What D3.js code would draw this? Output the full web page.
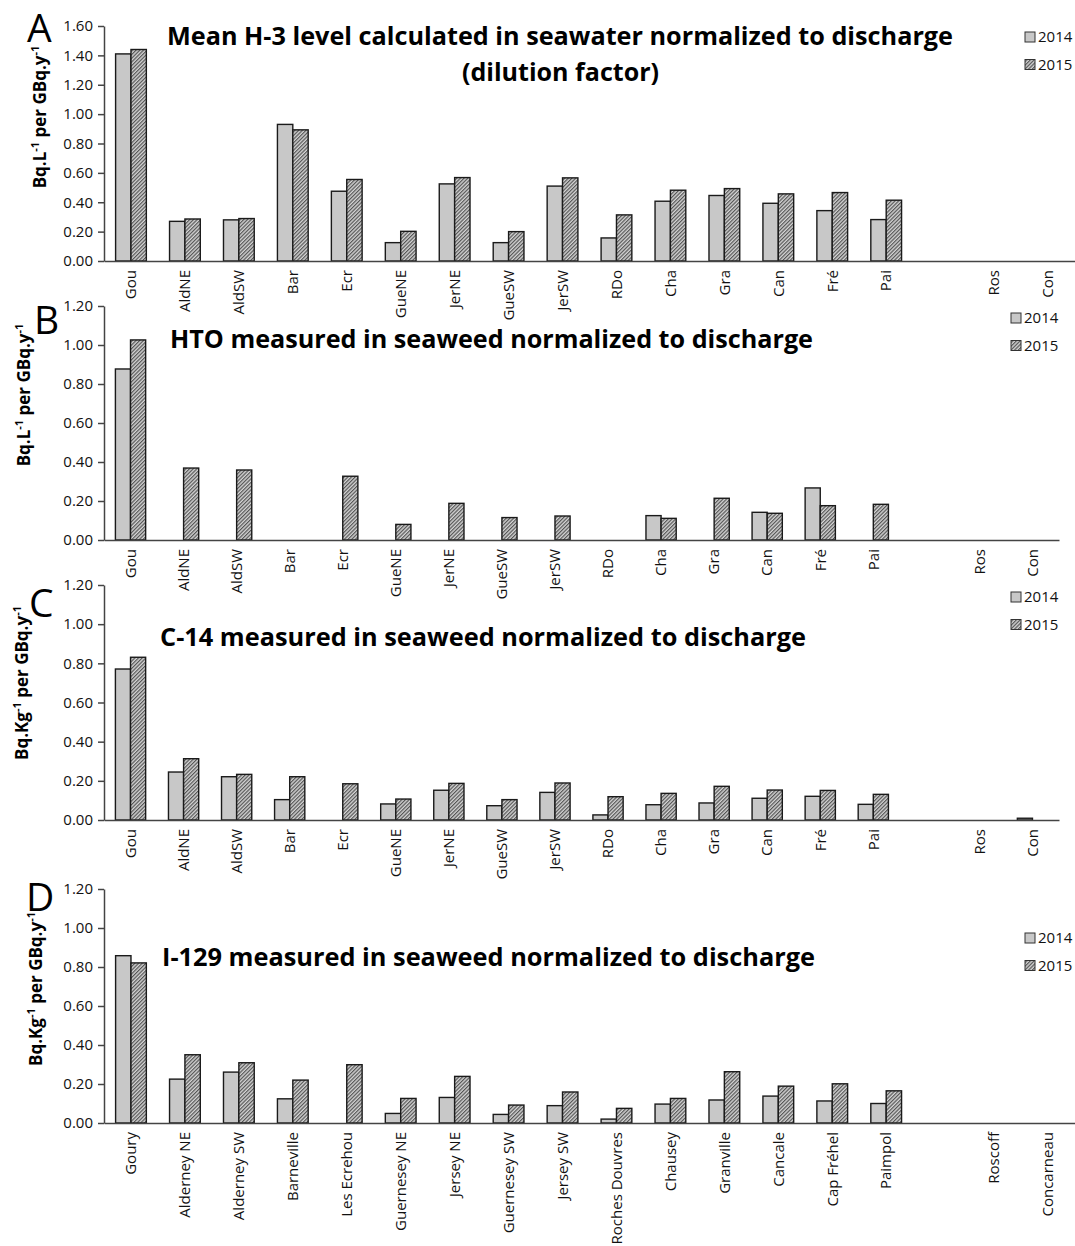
<!DOCTYPE html>
<html>
<head>
<meta charset="utf-8">
<script src="https://cdn.jsdelivr.net/npm/d3@7"></script>
<style>
  body { margin: 0; background: #fff; }
  text { font-family: "Open Sans", sans-serif; }
</style>
</head>
<body>
<script>
// sampling sites (short labels for A-C, full names for D); one empty slot before Roscoff
const sitesShort = ["Gou", "AldNE", "AldSW", "Bar", "Ecr", "GueNE", "JerNE", "GueSW", "JerSW",
  "RDo", "Cha", "Gra", "Can", "Fré", "Pai", "", "Ros", "Con"];
const sitesLong = ["Goury", "Alderney NE", "Alderney SW", "Barneville", "Les Ecrehou", "Guernesey NE",
  "Jersey NE", "Guernesey SW", "Jersey SW", "Roches Douvres", "Chausey", "Granville", "Cancale",
  "Cap Fréhel", "Paimpol", "", "Roscoff", "Concarneau"];
const years = ["2014", "2015"];

// A - H-3 in seawater (dilution factor)
const h3_2014 = [1.41, 0.27, 0.28, 0.93, 0.475, 0.125, 0.525, 0.125, 0.51, 0.157, 0.407, 0.446, 0.393, 0.343, 0.282, null, null, null];
const h3_2015 = [1.44, 0.286, 0.289, 0.893, 0.555, 0.202, 0.568, 0.20, 0.566, 0.314, 0.482, 0.493, 0.457, 0.466, 0.414, null, null, null];
// B - HTO in seaweed
const hto_2014 = [0.877, null, null, null, null, null, null, null, null, null, 0.125, null, 0.142, 0.267, null, null, null, null];
const hto_2015 = [1.026, 0.369, 0.359, null, 0.327, 0.080, 0.188, 0.115, 0.123, null, 0.111, 0.214, 0.137, 0.176, 0.183, null, null, null];
// C - C-14 in seaweed
const c14_2014 = [0.771, 0.245, 0.221, 0.104, null, 0.082, 0.152, 0.073, 0.141, 0.026, 0.078, 0.087, 0.111, 0.121, 0.080, null, null, 0.009];
const c14_2015 = [0.831, 0.313, 0.233, 0.221, 0.185, 0.107, 0.187, 0.104, 0.189, 0.119, 0.136, 0.172, 0.153, 0.151, 0.131, null, null, null];
// D - I-129 in seaweed
const i129_2014 = [0.858, 0.225, 0.261, 0.124, null, 0.049, 0.131, 0.044, 0.089, 0.020, 0.097, 0.118, 0.138, 0.113, 0.100, null, null, null];
const i129_2015 = [0.821, 0.350, 0.309, 0.220, 0.299, 0.126, 0.239, 0.092, 0.159, 0.075, 0.126, 0.263, 0.189, 0.201, 0.165, null, null, null];

const width = 1075, height = 1246;

const svg = d3.select("body").append("svg")
  .attr("width", width)
  .attr("height", height);

// fills: light grey for 2014, fine upward hatch for 2015
const defs = svg.append("defs");
const hatch = defs.append("pattern")
  .attr("id", "hatch")
  .attr("patternUnits", "userSpaceOnUse")
  .attr("width", 2.6)
  .attr("height", 2.6)
  .attr("patternTransform", "rotate(45)");
hatch.append("rect").attr("width", 2.6).attr("height", 2.6).attr("fill", "#d4d4d4");
hatch.append("line")
  .attr("x1", 0.6).attr("y1", 0).attr("x2", 0.6).attr("y2", 2.6)
  .attr("stroke", "#555").attr("stroke-width", 1.2);

const fills = { "2014": "#c8c8c8", "2015": "url(#hatch)" };

const panels = [
  { letter: "A", s2014: h3_2014, s2015: h3_2015, labels: sitesShort, yMax: 1.6,
    top: 26, bottom: 261, xRange: [104, 1075],
    titles: [{ t: "Mean H-3 level calculated in seawater normalized to discharge", x0: 167, x1: 953, y: 45 },
             { t: "(dilution factor)", x0: 462, x1: 659, y: 81 }],
    unit: "L", letterPos: [27, 42], yLab: [40, 117], legend: [1025, 37] },
  { letter: "B", s2014: hto_2014, s2015: hto_2015, labels: sitesShort, yMax: 1.2,
    top: 306, bottom: 540, xRange: [104, 1059],
    titles: [{ t: "HTO measured in seaweed normalized to discharge", x0: 170, x1: 813, y: 348 }],
    unit: "L", letterPos: [34, 334], yLab: [24, 395], legend: [1011, 318] },
  { letter: "C", s2014: c14_2014, s2015: c14_2015, labels: sitesShort, yMax: 1.2,
    top: 585, bottom: 820, xRange: [104, 1059],
    titles: [{ t: "C-14 measured in seaweed normalized to discharge", x0: 160, x1: 806, y: 646 }],
    unit: "Kg", letterPos: [29, 617], yLab: [22, 683], legend: [1011, 597] },
  { letter: "D", s2014: i129_2014, s2015: i129_2015, labels: sitesLong, yMax: 1.2,
    top: 889, bottom: 1123, xRange: [104, 1075],
    titles: [{ t: "I-129 measured in seaweed normalized to discharge", x0: 162, x1: 815, y: 966 }],
    unit: "Kg", letterPos: [26, 911], yLab: [36, 989], legend: [1025, 938] }
];

panels.forEach(drawPanel);

function drawPanel(p) {
  const g = svg.append("g");
  const idx = d3.range(p.labels.length);

  const x = d3.scaleBand().domain(idx).range(p.xRange).paddingInner(0.43).paddingOuter(0.215);
  const xYear = d3.scaleBand().domain(years).range([0, x.bandwidth()]);
  const y = d3.scaleLinear().domain([0, p.yMax]).range([p.bottom, p.top]);

  // bars
  const rows = idx.map(i => ({ i, vals: [
    { year: "2014", v: p.s2014[i] }, { year: "2015", v: p.s2015[i] }] }));

  g.append("g").selectAll("g")
    .data(rows)
    .join("g")
    .attr("transform", d => `translate(${x(d.i)},0)`)
    .selectAll("rect")
    .data(d => d.vals.filter(v => v.v != null))
    .join("rect")
    .attr("x", d => xYear(d.year))
    .attr("width", xYear.bandwidth())
    .attr("y", d => y(d.v))
    .attr("height", d => y(0) - y(d.v))
    .attr("fill", d => fills[d.year])
    .attr("stroke", "#1a1a1a")
    .attr("stroke-width", 1.4);

  // y axis
  const yAxis = g.append("g")
    .attr("transform", `translate(${p.xRange[0]},0)`)
    .call(d3.axisLeft(y)
      .tickValues(d3.range(0, p.yMax + 0.001, 0.2))
      .tickFormat(d3.format(".2f"))
      .tickSize(6).tickSizeOuter(0).tickPadding(5));
  yAxis.selectAll("text").attr("font-size", 15).attr("fill", "#111");

  // x axis with rotated site names
  const xAxis = g.append("g")
    .attr("transform", `translate(0,${p.bottom})`)
    .call(d3.axisBottom(x).tickSize(0).tickSizeOuter(0).tickFormat(i => p.labels[i]));
  xAxis.selectAll("text")
    .attr("font-size", 15)
    .attr("fill", "#111")
    .attr("transform", "rotate(-90)")
    .attr("text-anchor", "end")
    .attr("x", -9)
    .attr("y", 0)
    .attr("dy", "0.35em");

  [yAxis, xAxis].forEach(a => {
    a.selectAll(".domain, .tick line").attr("stroke", "#444").attr("stroke-width", 1.5);
  });

  // titles, squeezed to the width of the original
  p.titles.forEach(tt => {
    g.append("text")
      .attr("x", tt.x0)
      .attr("y", tt.y)
      .attr("font-size", 25)
      .attr("font-weight", "bold")
      .attr("fill", "#000")
      .attr("textLength", tt.x1 - tt.x0)
      .attr("lengthAdjust", "spacingAndGlyphs")
      .text(tt.t);
  });

  // panel letter
  g.append("text")
    .attr("x", p.letterPos[0])
    .attr("y", p.letterPos[1])
    .attr("font-size", 39)
    .attr("fill", "#000")
    .text(p.letter);

  // y axis title with superscripts
  const yl = g.append("text")
    .attr("transform", `translate(${p.yLab[0]},${p.yLab[1]}) rotate(-90)`)
    .attr("text-anchor", "middle")
    .attr("dy", "0.35em")
    .attr("font-size", 17)
    .attr("font-weight", "bold")
    .attr("fill", "#000");
  yl.append("tspan").text("Bq." + p.unit);
  yl.append("tspan").attr("dy", -7).attr("font-size", 11).text("-1");
  yl.append("tspan").attr("dy", 7).text(" per GBq.y");
  yl.append("tspan").attr("dy", -7).attr("font-size", 11).text("-1");

  // legend
  const lg = g.append("g").attr("transform", `translate(${p.legend[0]},${p.legend[1]})`);
  years.forEach((yr, k) => {
    const row = lg.append("g").attr("transform", `translate(0,${k * 27.5})`);
    row.append("rect")
      .attr("x", 0).attr("y", -5)
      .attr("width", 10).attr("height", 10)
      .attr("fill", fills[yr])
      .attr("stroke", "#333")
      .attr("stroke-width", 1);
    row.append("text")
      .attr("x", 13)
      .attr("y", 0)
      .attr("dy", "0.35em")
      .attr("font-size", 15)
      .attr("fill", "#111")
      .text(yr);
  });
}
</script>
</body>
</html>
